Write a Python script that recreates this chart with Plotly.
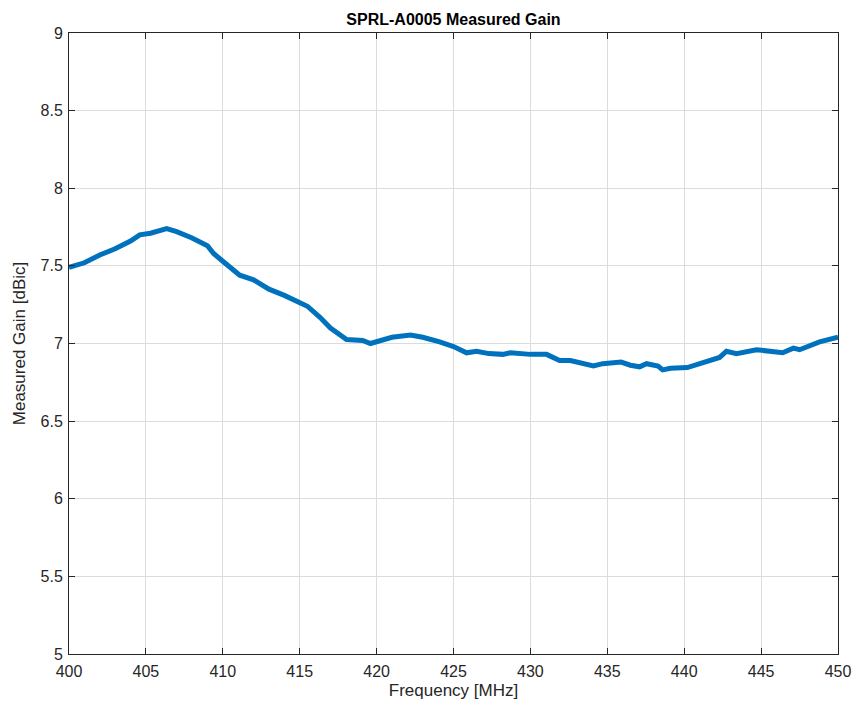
import plotly.graph_objects as go

freq = [400.0, 400.3, 401.0, 402.0, 403.0, 404.0, 404.6, 405.3, 406.35, 407.0, 408.0, 409.0, 409.4, 410.0,
        411.1, 412.0, 413.0, 414.0, 414.6, 415.5, 416.3, 417.0, 418.05, 419.1, 419.6, 420.2, 421.0,
        422.2, 423.0, 424.1, 425.0, 425.85, 426.5, 427.3, 428.2, 428.7, 430.0, 431.05, 431.9, 432.6,
        433.2, 434.1, 434.7, 435.9, 436.5, 437.1, 437.55, 438.3, 438.6, 439.1, 440.2, 441.25, 442.3,
        442.75, 443.4, 444.7, 445.8, 446.4, 447.1, 447.5, 448.8, 450.0]
gain = [7.49, 7.50, 7.52, 7.57, 7.61, 7.66, 7.70, 7.71, 7.74, 7.72, 7.68, 7.63, 7.58, 7.53,
        7.44, 7.41, 7.35, 7.31, 7.28, 7.24, 7.17, 7.10, 7.025, 7.02, 7.00, 7.02, 7.04,
        7.055, 7.04, 7.01, 6.98, 6.94, 6.95, 6.935, 6.93, 6.94, 6.93, 6.93, 6.89, 6.89,
        6.875, 6.855, 6.87, 6.88, 6.86, 6.85, 6.87, 6.855, 6.83, 6.84, 6.845, 6.88, 6.91,
        6.95, 6.935, 6.96, 6.95, 6.94, 6.97, 6.96, 7.01, 7.04]

x_ticks = [400, 405, 410, 415, 420, 425, 430, 435, 440, 445, 450]
y_ticks = [5, 5.5, 6, 6.5, 7, 7.5, 8, 8.5, 9]
y_labels = ["5", "5.5", "6", "6.5", "7", "7.5", "8", "8.5", "9"]

FONT = "Liberation Sans, Arial"
fig = go.Figure()
fig.add_trace(go.Scatter(x=freq, y=gain, mode="lines",
                         line=dict(color="#0072BD", width=5), showlegend=False))

axis_common = dict(showline=True, linecolor="#262626", linewidth=1, mirror="ticks",
                   ticks="inside", ticklen=6, tickcolor="#262626", automargin=False,
                   showgrid=True, gridcolor="#DCDCDC", gridwidth=1, zeroline=False,
                   tickfont=dict(family=FONT, size=16, color="#262626"))

fig.update_layout(
    width=858, height=713,
    paper_bgcolor="white", plot_bgcolor="white",
    margin=dict(l=69, r=20, t=33, b=59),
    title=dict(text="<b>SPRL-A0005 Measured Gain</b>", x=(69 + 838) / 2 / 858, xanchor="center",
               y=1 - 19/713, yanchor="middle",
               font=dict(family=FONT, size=16, color="black")),
    xaxis=dict(range=[400, 450], tickvals=x_ticks, ticktext=[str(v) for v in x_ticks],
               ticklabelstandoff=3,
               title=dict(text="Frequency [MHz]", standoff=4,
                          font=dict(family=FONT, size=17, color="#262626")),
               **axis_common),
    yaxis=dict(range=[5, 9], tickvals=y_ticks, ticktext=y_labels,
               ticklabelstandoff=2,
               title=dict(text="Measured Gain [dBic]", standoff=10,
                          font=dict(family=FONT, size=17, color="#262626")),
               **axis_common),
)

fig.write_html("out.html", config={"displayModeBar": False},
               post_script="document.body.style.margin='0';")
